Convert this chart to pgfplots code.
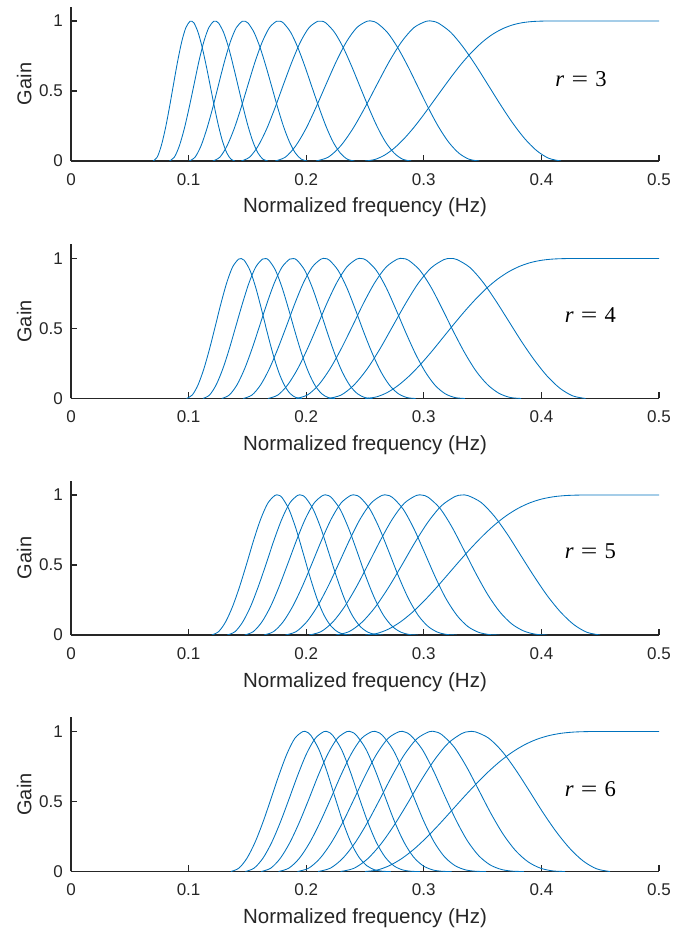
\documentclass[border=0pt]{standalone}
\usepackage{fontspec}
\setmainfont{Liberation Sans}
\newfontfamily\tnr{Liberation Serif}
\usepackage{graphicx}
\usepackage{pgfplots}
\usepackage{pgfplotstable}
\pgfplotsset{compat=1.18}
\definecolor{mblue}{RGB}{0,114,189}
\definecolor{axgray}{RGB}{38,38,38}

% columns: highpass (fH,gH) and band-pass responses j=2..8 (f,g)
\pgfplotstableread{
fH gH f2 g2 f3 g3 f4 g4 f5 g5 f6 g6 f7 g7 f8 g8
0.2500 0 0.2083 0 0.1736 0 0.1447 0 0.1206 0 0.1005 0 0.0837 0 0.0698 0
0.2583 0.0106 0.2188 0.0275 0.1823 0.0275 0.1519 0.0275 0.1266 0.0275 0.1055 0.0275 0.0879 0.0275 0.0733 0.0275
0.2667 0.0420 0.2292 0.1069 0.1910 0.1069 0.1591 0.1069 0.1326 0.1069 0.1105 0.1069 0.0921 0.1069 0.0767 0.1069
0.2750 0.0927 0.2396 0.2296 0.1997 0.2296 0.1664 0.2296 0.1387 0.2296 0.1155 0.2296 0.0963 0.2296 0.0802 0.2296
0.2833 0.1600 0.2500 0.3825 0.2083 0.3825 0.1736 0.3825 0.1447 0.3825 0.1206 0.3825 0.1005 0.3825 0.0837 0.3825
0.2917 0.2410 0.2604 0.5497 0.2170 0.5497 0.1808 0.5497 0.1507 0.5497 0.1256 0.5497 0.1047 0.5497 0.0872 0.5497
0.3000 0.3316 0.2708 0.7131 0.2257 0.7131 0.1881 0.7131 0.1567 0.7131 0.1306 0.7131 0.1088 0.7131 0.0907 0.7131
0.3083 0.4277 0.2813 0.8537 0.2344 0.8537 0.1953 0.8537 0.1628 0.8537 0.1356 0.8537 0.1130 0.8537 0.0942 0.8537
0.3167 0.5250 0.2917 0.9531 0.2431 0.9531 0.2025 0.9531 0.1688 0.9531 0.1406 0.9531 0.1172 0.9531 0.0977 0.9531
0.3250 0.6194 0.3021 0.9980 0.2517 0.9980 0.2098 0.9980 0.1748 0.9980 0.1457 0.9980 0.1214 0.9980 0.1012 0.9980
0.3333 0.7071 0.3073 0.9984 0.2561 0.9984 0.2134 0.9984 0.1778 0.9984 0.1482 0.9984 0.1235 0.9984 0.1029 0.9984
0.3417 0.7851 0.3125 0.9845 0.2604 0.9844 0.2170 0.9844 0.1808 0.9844 0.1507 0.9844 0.1256 0.9844 0.1047 0.9844
0.3500 0.8511 0.3229 0.9191 0.2691 0.9177 0.2242 0.9177 0.1869 0.9177 0.1557 0.9177 0.1298 0.9177 0.1081 0.9177
0.3583 0.9039 0.3333 0.8152 0.2778 0.8099 0.2315 0.8099 0.1929 0.8099 0.1608 0.8099 0.1340 0.8099 0.1116 0.8099
0.3667 0.9434 0.3438 0.6880 0.2865 0.6756 0.2387 0.6756 0.1989 0.6756 0.1658 0.6756 0.1381 0.6756 0.1151 0.6756
0.3750 0.9705 0.3542 0.5497 0.2951 0.5281 0.2459 0.5281 0.2049 0.5281 0.1708 0.5281 0.1423 0.5281 0.1186 0.5281
0.3833 0.9871 0.3646 0.4099 0.3038 0.3799 0.2532 0.3799 0.2110 0.3799 0.1758 0.3799 0.1465 0.3799 0.1221 0.3799
0.3917 0.9957 0.3750 0.2780 0.3125 0.2444 0.2604 0.2444 0.2170 0.2444 0.1808 0.2444 0.1507 0.2444 0.1256 0.2444
0.4000 0.9991 0.3854 0.1636 0.3212 0.1336 0.2676 0.1336 0.2230 0.1336 0.1859 0.1336 0.1549 0.1336 0.1291 0.1336
0.4083 1.0000 0.3958 0.0751 0.3299 0.0556 0.2749 0.0556 0.2291 0.0556 0.1909 0.0556 0.1591 0.0556 0.1326 0.0556
0.4167 1 0.4063 0.0191 0.3385 0.0125 0.2821 0.0125 0.2351 0.0125 0.1959 0.0125 0.1633 0.0125 0.1361 0.0125
0.5000 1 0.4167 0 0.3472 0 0.2894 0 0.2411 0 0.2009 0 0.1674 0 0.1395 0
}\tabA

\pgfplotstableread{
fH gH f2 g2 f3 g3 f4 g4 f5 g5 f6 g6 f7 g7 f8 g8
0.2500 0 0.2188 0 0.1914 0 0.1675 0 0.1465 0 0.1282 0 0.1122 0 0.0982 0
0.2594 0.0106 0.2297 0.0245 0.2010 0.0247 0.1759 0.0247 0.1539 0.0247 0.1346 0.0247 0.1178 0.0247 0.1031 0.0247
0.2688 0.0420 0.2406 0.0960 0.2105 0.0967 0.1842 0.0967 0.1612 0.0967 0.1411 0.0967 0.1234 0.0967 0.1080 0.0967
0.2781 0.0927 0.2516 0.2083 0.2201 0.2097 0.1926 0.2097 0.1685 0.2097 0.1475 0.2097 0.1290 0.2097 0.1129 0.2097
0.2875 0.1600 0.2625 0.3516 0.2297 0.3541 0.2010 0.3541 0.1758 0.3541 0.1539 0.3541 0.1346 0.3541 0.1178 0.3541
0.2969 0.2410 0.2734 0.5133 0.2393 0.5168 0.2094 0.5168 0.1832 0.5168 0.1603 0.5168 0.1402 0.5168 0.1227 0.5168
0.3063 0.3316 0.2844 0.6768 0.2488 0.6815 0.2177 0.6815 0.1905 0.6815 0.1667 0.6815 0.1459 0.6815 0.1276 0.6815
0.3156 0.4277 0.2953 0.8232 0.2584 0.8289 0.2261 0.8289 0.1978 0.8289 0.1731 0.8289 0.1515 0.8289 0.1325 0.8289
0.3250 0.5250 0.3063 0.9334 0.2680 0.9392 0.2345 0.9392 0.2052 0.9392 0.1795 0.9392 0.1571 0.9392 0.1374 0.9392
0.3344 0.6194 0.3172 0.9924 0.2775 0.9953 0.2428 0.9953 0.2125 0.9953 0.1859 0.9953 0.1627 0.9953 0.1424 0.9953
0.3438 0.7071 0.3227 1.0000 0.2823 0.9996 0.2470 0.9996 0.2162 0.9996 0.1891 0.9996 0.1655 0.9996 0.1448 0.9996
0.3531 0.7851 0.3281 0.9927 0.2871 0.9872 0.2512 0.9872 0.2198 0.9872 0.1923 0.9872 0.1683 0.9872 0.1473 0.9872
0.3625 0.8511 0.3391 0.9365 0.2967 0.9155 0.2596 0.9155 0.2271 0.9155 0.1988 0.9155 0.1739 0.9155 0.1522 0.9155
0.3719 0.9039 0.3500 0.8343 0.3063 0.7926 0.2680 0.7920 0.2345 0.7920 0.2052 0.7920 0.1795 0.7920 0.1571 0.7920
0.3813 0.9434 0.3609 0.7021 0.3158 0.6383 0.2763 0.6362 0.2418 0.6362 0.2116 0.6362 0.1851 0.6362 0.1620 0.6362
0.3906 0.9705 0.3719 0.5564 0.3254 0.4753 0.2847 0.4707 0.2491 0.4707 0.2180 0.4707 0.1907 0.4707 0.1669 0.4707
0.4000 0.9871 0.3828 0.4111 0.3350 0.3231 0.2931 0.3161 0.2565 0.3161 0.2244 0.3161 0.1963 0.3161 0.1718 0.3161
0.4094 0.9957 0.3938 0.2768 0.3445 0.1951 0.3015 0.1870 0.2638 0.1870 0.2308 0.1870 0.2020 0.1870 0.1767 0.1870
0.4188 0.9991 0.4047 0.1619 0.3541 0.0994 0.3098 0.0923 0.2711 0.0923 0.2372 0.0923 0.2076 0.0923 0.1816 0.0923
0.4281 1.0000 0.4156 0.0740 0.3637 0.0382 0.3182 0.0339 0.2784 0.0339 0.2436 0.0339 0.2132 0.0339 0.1865 0.0339
0.4375 1 0.4266 0.0188 0.3732 0.0078 0.3266 0.0065 0.2858 0.0065 0.2500 0.0065 0.2188 0.0065 0.1914 0.0065
0.5000 1 0.4375 0 0.3828 0 0.3350 0 0.2931 0 0.2565 0 0.2244 0 0.1963 0
}\tabB

\pgfplotstableread{
fH gH f2 g2 f3 g3 f4 g4 f5 g5 f6 g6 f7 g7 f8 g8
0.25 0 0.2250 0 0.2025 0 0.1823 0 0.1640 0 0.1476 0 0.1329 0 0.1196 0
0.26 0.0106 0.2363 0.0234 0.2126 0.0240 0.1914 0.0240 0.1722 0.0240 0.1550 0.0240 0.1395 0.0240 0.1255 0.0240
0.27 0.0420 0.2475 0.0918 0.2228 0.0943 0.2005 0.0943 0.1804 0.0943 0.1624 0.0943 0.1461 0.0943 0.1315 0.0943
0.28 0.0927 0.2588 0.2001 0.2329 0.2054 0.2096 0.2055 0.1886 0.2055 0.1698 0.2055 0.1528 0.2055 0.1375 0.2055
0.29 0.1600 0.2700 0.3397 0.2430 0.3488 0.2187 0.3490 0.1968 0.3490 0.1771 0.3490 0.1594 0.3490 0.1435 0.3490
0.30 0.2410 0.2813 0.4987 0.2531 0.5121 0.2278 0.5123 0.2050 0.5123 0.1845 0.5123 0.1661 0.5123 0.1495 0.5123
0.31 0.3316 0.2925 0.6614 0.2633 0.6790 0.2369 0.6793 0.2132 0.6793 0.1919 0.6793 0.1727 0.6793 0.1554 0.6793
0.32 0.4277 0.3038 0.8092 0.2734 0.8295 0.2460 0.8299 0.2214 0.8299 0.1993 0.8299 0.1794 0.8299 0.1614 0.8299
0.33 0.5250 0.3150 0.9232 0.2835 0.9418 0.2552 0.9422 0.2296 0.9422 0.2067 0.9422 0.1860 0.9422 0.1674 0.9422
0.34 0.6194 0.3263 0.9883 0.2936 0.9966 0.2643 0.9968 0.2378 0.9968 0.2141 0.9968 0.1926 0.9968 0.1734 0.9968
0.35 0.7071 0.3319 0.9995 0.2987 0.9988 0.2688 0.9986 0.2419 0.9986 0.2177 0.9986 0.1960 0.9986 0.1764 0.9986
0.36 0.7851 0.3375 0.9959 0.3038 0.9835 0.2734 0.9823 0.2460 0.9823 0.2214 0.9823 0.1993 0.9823 0.1794 0.9823
0.37 0.8511 0.3488 0.9463 0.3139 0.9033 0.2825 0.8984 0.2542 0.8984 0.2288 0.8984 0.2059 0.8984 0.1853 0.8984
0.38 0.9039 0.3600 0.8482 0.3240 0.7703 0.2916 0.7590 0.2624 0.7590 0.2362 0.7590 0.2126 0.7590 0.1913 0.7590
0.39 0.9434 0.3713 0.7165 0.3341 0.6072 0.3007 0.5881 0.2706 0.5881 0.2436 0.5881 0.2192 0.5881 0.1973 0.5881
0.40 0.9705 0.3825 0.5679 0.3443 0.4393 0.3098 0.4133 0.2788 0.4133 0.2509 0.4133 0.2259 0.4133 0.2033 0.4133
0.41 0.9871 0.3938 0.4186 0.3544 0.2879 0.3189 0.2592 0.2870 0.2592 0.2583 0.2592 0.2325 0.2592 0.2092 0.2592
0.42 0.9957 0.4050 0.2808 0.3645 0.1665 0.3281 0.1408 0.2952 0.1408 0.2657 0.1408 0.2391 0.1408 0.2152 0.1408
0.43 0.9991 0.4163 0.1638 0.3746 0.0804 0.3372 0.0623 0.3035 0.0623 0.2731 0.0623 0.2458 0.0623 0.2212 0.0623
0.44 1.0000 0.4275 0.0748 0.3848 0.0293 0.3463 0.0202 0.3117 0.0202 0.2805 0.0202 0.2524 0.0202 0.2272 0.0202
0.45 1 0.4388 0.0190 0.3949 0.0056 0.3554 0.0034 0.3199 0.0034 0.2879 0.0034 0.2591 0.0034 0.2332 0.0034
0.50 1 0.4500 0 0.4050 0 0.3645 0 0.3281 0 0.2952 0 0.2657 0 0.2391 0
}\tabC

\pgfplotstableread{
fH gH f2 g2 f3 g3 f4 g4 f5 g5 f6 g6 f7 g7 f8 g8
0.2500 0 0.2292 0 0.2101 0 0.1926 0 0.1765 0 0.1618 0 0.1483 0 0.1360 0
0.2604 0.0106 0.2406 0.0228 0.2206 0.0240 0.2022 0.0241 0.1853 0.0241 0.1699 0.0241 0.1557 0.0241 0.1428 0.0241
0.2708 0.0420 0.2521 0.0897 0.2311 0.0942 0.2118 0.0946 0.1942 0.0946 0.1780 0.0946 0.1632 0.0946 0.1496 0.0946
0.2813 0.0927 0.2635 0.1959 0.2416 0.2057 0.2214 0.2065 0.2030 0.2066 0.1861 0.2066 0.1706 0.2066 0.1564 0.2066
0.2917 0.1600 0.2750 0.3336 0.2521 0.3503 0.2311 0.3516 0.2118 0.3517 0.1942 0.3517 0.1780 0.3517 0.1632 0.3517
0.3021 0.2410 0.2865 0.4911 0.2626 0.5156 0.2407 0.5176 0.2207 0.5177 0.2023 0.5177 0.1854 0.5177 0.1700 0.5177
0.3125 0.3316 0.2979 0.6531 0.2731 0.6848 0.2503 0.6875 0.2295 0.6876 0.2103 0.6876 0.1928 0.6876 0.1768 0.6876
0.3229 0.4277 0.3094 0.8012 0.2836 0.8365 0.2600 0.8398 0.2383 0.8399 0.2184 0.8399 0.2002 0.8399 0.1836 0.8399
0.3333 0.5250 0.3208 0.9172 0.2941 0.9477 0.2696 0.9507 0.2471 0.9509 0.2265 0.9509 0.2077 0.9509 0.1903 0.9509
0.3438 0.6194 0.3323 0.9856 0.3046 0.9986 0.2792 0.9992 0.2560 0.9993 0.2346 0.9993 0.2151 0.9993 0.1971 0.9993
0.3542 0.7071 0.3380 0.9988 0.3099 0.9978 0.2840 0.9958 0.2604 0.9959 0.2387 0.9959 0.2188 0.9959 0.2005 0.9959
0.3646 0.7851 0.3438 0.9975 0.3151 0.9790 0.2888 0.9731 0.2648 0.9730 0.2427 0.9730 0.2225 0.9730 0.2039 0.9730
0.3750 0.8511 0.3552 0.9522 0.3256 0.8914 0.2985 0.8747 0.2736 0.8736 0.2508 0.8736 0.2299 0.8736 0.2107 0.8736
0.3854 0.9039 0.3667 0.8573 0.3361 0.7514 0.3081 0.7214 0.2824 0.7179 0.2589 0.7179 0.2373 0.7179 0.2175 0.7179
0.3958 0.9434 0.3781 0.7267 0.3466 0.5835 0.3177 0.5421 0.2913 0.5352 0.2670 0.5352 0.2447 0.5352 0.2243 0.5352
0.4063 0.9705 0.3896 0.5772 0.3571 0.4141 0.3274 0.3671 0.3001 0.3571 0.2751 0.3571 0.2522 0.3571 0.2311 0.3571
0.4167 0.9871 0.4010 0.4255 0.3676 0.2647 0.3370 0.2204 0.3089 0.2091 0.2832 0.2091 0.2596 0.2091 0.2379 0.2091
0.4271 0.9957 0.4125 0.2851 0.3781 0.1485 0.3466 0.1140 0.3177 0.1042 0.2912 0.1042 0.2670 0.1042 0.2447 0.1042
0.4375 0.9991 0.4240 0.1661 0.3886 0.0694 0.3562 0.0481 0.3266 0.0416 0.2993 0.0416 0.2744 0.0416 0.2515 0.0416
0.4479 1.0000 0.4354 0.0757 0.3991 0.0241 0.3659 0.0147 0.3354 0.0118 0.3074 0.0118 0.2818 0.0118 0.2583 0.0118
0.4583 1 0.4469 0.0192 0.4096 0.0043 0.3755 0.0023 0.3442 0.0016 0.3155 0.0016 0.2892 0.0016 0.2651 0.0016
0.5000 1 0.4583 0 0.4201 0 0.3851 0 0.3530 0 0.3236 0 0.2966 0 0.2719 0
}\tabD

\pgfplotsset{
  panel/.style={
    scale only axis, width=588pt, height=154pt,
    anchor=south west,
    xmin=0, xmax=0.5, ymin=0, ymax=1.1,
    axis lines*=left,
    axis line style={axgray, line width=1.2pt},
    tick align=inside,
    major tick length=6pt,
    tick style={axgray, line width=1.2pt},
    xtick={0,0.1,0.2,0.3,0.4,0.5},
    ytick={0,0.5,1},
    /pgf/number format/assume math mode=true,
    ticklabel style={font=\fontsize{17}{19}\selectfont, text=axgray},
    xticklabel style={inner sep=0pt, anchor=north, yshift=-12pt},
    yticklabel style={inner sep=0pt, anchor=east, xshift=-8pt},
    xlabel={Normalized frequency (Hz)},
    ylabel={Gain},
    xlabel style={font=\fontsize{20.5}{23}\selectfont, text=axgray, at={(axis description cs:0.5,-0.3377)}, anchor=base, inner sep=0pt},
    ylabel style={font=\fontsize{20}{23}\selectfont, text=axgray, at={(axis description cs:-0.0672,0.5)}, anchor=base, inner sep=0pt},
  },
}
\tikzset{
  curve/.style={mblue, solid, line width=0.85pt, smooth},
  rlab/.style={font=\tnr\fontsize{22.6}{26}\selectfont, text=black, inner sep=0pt, anchor=center},
}
\newcommand{\rtext}[1]{\textit{r}\hspace{0.32em}\scalebox{1.3}[1]{=}\hspace{0.32em}#1}

\begin{document}
\begin{tikzpicture}
\useasboundingbox (0pt,0pt) rectangle (688pt,931pt);

\begin{axis}[panel, at={(71pt,770pt)}]
\addplot[curve] table[x=fH,y=gH] {\tabA};
\addplot[curve] table[x=f2,y=g2] {\tabA};
\addplot[curve] table[x=f3,y=g3] {\tabA};
\addplot[curve] table[x=f4,y=g4] {\tabA};
\addplot[curve] table[x=f5,y=g5] {\tabA};
\addplot[curve] table[x=f6,y=g6] {\tabA};
\addplot[curve] table[x=f7,y=g7] {\tabA};
\addplot[curve] table[x=f8,y=g8] {\tabA};
\node[rlab] at (axis cs:0.4337,0.585) {\rtext{3}};
\end{axis}

\begin{axis}[panel, at={(71pt,532.5pt)}]
\addplot[curve] table[x=fH,y=gH] {\tabB};
\addplot[curve] table[x=f2,y=g2] {\tabB};
\addplot[curve] table[x=f3,y=g3] {\tabB};
\addplot[curve] table[x=f4,y=g4] {\tabB};
\addplot[curve] table[x=f5,y=g5] {\tabB};
\addplot[curve] table[x=f6,y=g6] {\tabB};
\addplot[curve] table[x=f7,y=g7] {\tabB};
\addplot[curve] table[x=f8,y=g8] {\tabB};
\node[rlab] at (axis cs:0.4417,0.596) {\rtext{4}};
\end{axis}

\begin{axis}[panel, at={(71pt,296pt)}]
\addplot[curve] table[x=fH,y=gH] {\tabC};
\addplot[curve] table[x=f2,y=g2] {\tabC};
\addplot[curve] table[x=f3,y=g3] {\tabC};
\addplot[curve] table[x=f4,y=g4] {\tabC};
\addplot[curve] table[x=f5,y=g5] {\tabC};
\addplot[curve] table[x=f6,y=g6] {\tabC};
\addplot[curve] table[x=f7,y=g7] {\tabC};
\addplot[curve] table[x=f8,y=g8] {\tabC};
\node[rlab] at (axis cs:0.4417,0.596) {\rtext{5}};
\end{axis}

\begin{axis}[panel, at={(71pt,59.5pt)}]
\addplot[curve] table[x=fH,y=gH] {\tabD};
\addplot[curve] table[x=f2,y=g2] {\tabD};
\addplot[curve] table[x=f3,y=g3] {\tabD};
\addplot[curve] table[x=f4,y=g4] {\tabD};
\addplot[curve] table[x=f5,y=g5] {\tabD};
\addplot[curve] table[x=f6,y=g6] {\tabD};
\addplot[curve] table[x=f7,y=g7] {\tabD};
\addplot[curve] table[x=f8,y=g8] {\tabD};
\node[rlab] at (axis cs:0.4417,0.589) {\rtext{6}};
\end{axis}
\end{tikzpicture}
\end{document}
